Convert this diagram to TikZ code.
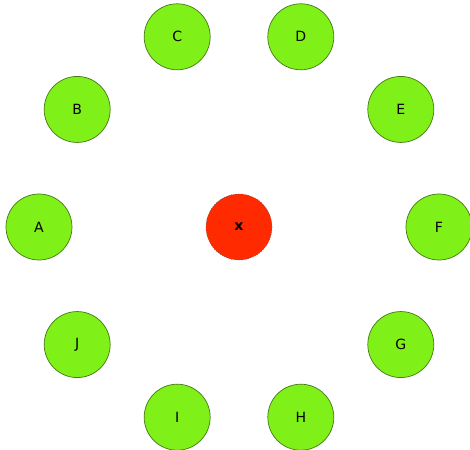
\documentclass[tikz,border=0pt]{standalone}
\usepackage{fontspec}
\setmainfont{DejaVu Sans}
\definecolor{ringgreen}{RGB}{127,240,24}
\definecolor{ringedge}{RGB}{70,120,20}
\definecolor{hubred}{RGB}{255,42,0}

\begin{document}
\begin{tikzpicture}[
  ringnode/.style={draw=ringedge,circle,fill=ringgreen,minimum size=1.32cm,
    inner sep=0pt,font=\footnotesize},
  hubnode/.style={draw=black!60,densely dotted,circle,fill=hubred,minimum size=1.32cm,
    inner sep=0pt,font=\footnotesize\bfseries}
]
  \useasboundingbox (-4.78,-4.46) rectangle (4.62,4.54);
  % Hub
  \node[hubnode] (hub) at (0,0) {x};
  % Ring
  \node[ringnode] (a) at (180:4) {A};
  \node[ringnode] (b) at (144:4) {B};
  \node[ringnode] (c) at (108:4) {C};
  \node[ringnode] (d) at (72:4) {D};
  \node[ringnode] (e) at (36:4) {E};
  \node[ringnode] (f) at (0:4) {F};
  \node[ringnode] (g) at (-36:4) {G};
  \node[ringnode] (h) at (-72:4) {H};
  \node[ringnode] (i) at (-108:4) {I};
  \node[ringnode] (j) at (-144:4) {J};
\end{tikzpicture}
\end{document}
